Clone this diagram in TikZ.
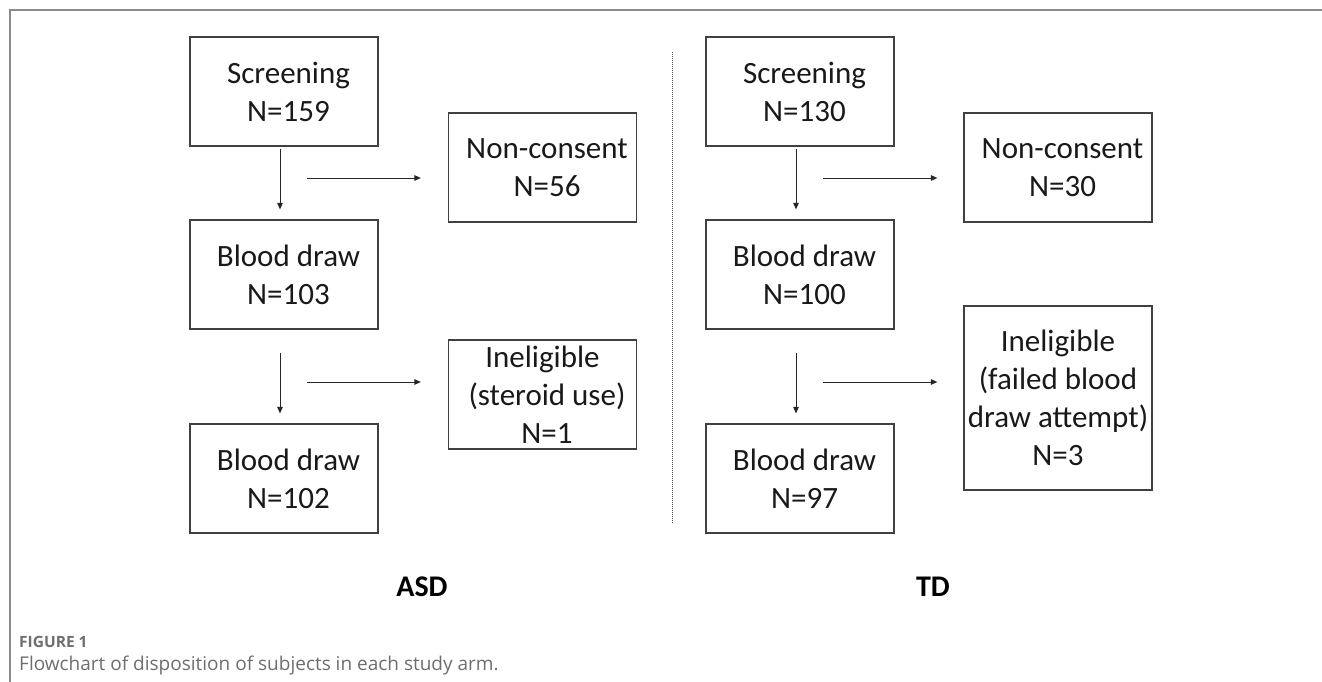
\documentclass[tikz,border=0pt]{standalone}
\usepackage{fontspec}
\setmainfont{Carlito}
\newfontfamily\capfont{Open Sans}
\usetikzlibrary{arrows.meta}
\definecolor{boxline}{HTML}{404040}
\definecolor{framegray}{HTML}{8A8A8A}
\definecolor{capgray}{HTML}{6E6E6E}
\newcommand\sh{\hspace*{9pt}}
\tikzset{
  flowbox/.style={draw=boxline, line width=1.2pt, minimum width=188pt, minimum height=109pt,
    inner sep=0pt, align=center, font=\fontsize{31}{38}\selectfont, text=black!90},
  arr/.style={draw=black!85, line width=1pt, -{Triangle[length=6.5pt,width=5.5pt]}},
  armlabel/.style={font=\fontsize{30}{36}\selectfont\bfseries, anchor=base, inner sep=0pt},
}
\begin{document}
\begin{tikzpicture}[x=1pt,y=-1pt]
\useasboundingbox (0,0) rectangle (1322,682);
% frame
\draw[framegray, line width=1.3pt] (1322,10) -- (10,10) -- (10,682);
% ASD arm
\node[flowbox] (s1) at (284,91.5) {\sh Screening\\\sh N=159};
\node[flowbox] (n1) at (542.5,167.5) {\sh Non-consent\\\sh N=56};
\node[flowbox] (b1) at (284,274.5) {\sh Blood draw\\\sh N=103};
\node[flowbox] (i1) at (542.5,394.5) {Ineligible\\\sh(steroid use)\\\sh N=1};
\node[flowbox] (c1) at (284,478.5) {\sh Blood draw\\\sh N=102};
% TD arm
\node[flowbox] (s2) at (800,91.5) {\sh Screening\\\sh N=130};
\node[flowbox] (n2) at (1058,167.5) {\sh Non-consent\\\sh N=30};
\node[flowbox] (b2) at (800,274.5) {\sh Blood draw\\\sh N=100};
\node[flowbox, minimum height=184pt] (i2) at (1058,398) {Ineligible\\(failed blood\\draw attempt)\\N=3};
\node[flowbox] (c2) at (800,478.5) {\sh Blood draw\\\sh N=97};
% vertical arrows
\draw[arr, shorten <=2pt, shorten >=10pt] ([xshift=-4pt]s1.south) -- ([xshift=-4pt]b1.north);
\draw[arr, shorten <=23pt, shorten >=10pt] ([xshift=-4pt]b1.south) -- ([xshift=-4pt]c1.north);
\draw[arr, shorten <=2pt, shorten >=10pt] ([xshift=-4pt]s2.south) -- ([xshift=-4pt]b2.north);
\draw[arr, shorten <=23pt, shorten >=10pt] ([xshift=-4pt]b2.south) -- ([xshift=-4pt]c2.north);
% horizontal arrows
\coordinate (h1) at (307,178);
\coordinate (h2) at (307,382);
\coordinate (h3) at (823,178);
\coordinate (h4) at (823,382);
\draw[arr, shorten >=27pt] (h1) -- (h1 -| n1.west);
\draw[arr, shorten >=27pt] (h2) -- (h2 -| i1.west);
\draw[arr, shorten >=26pt] (h3) -- (h3 -| n2.west);
\draw[arr, shorten >=26pt] (h4) -- (h4 -| i2.west);
% divider
\coordinate (d1) at (672,52);
\coordinate (d2) at (672,523);
\draw[black!70, line width=1pt, dash pattern=on 1pt off 1pt] (d1) -- (d2);
% arm labels
\node[armlabel] (asd) at (422,596) {ASD};
\node[armlabel] (td) at (933,596) {TD};
% caption
\node[anchor=base west, inner sep=0pt, text=capgray, font=\capfont\fontsize{15.5}{18}\selectfont\bfseries] (fig) at (19,647) {FIGURE 1};
\node[anchor=base west, inner sep=0pt, text=capgray, font=\capfont\fontsize{19}{22}\selectfont] (cap) at (19,670) {Flowchart of disposition of subjects in each study arm.};
\end{tikzpicture}
\end{document}
